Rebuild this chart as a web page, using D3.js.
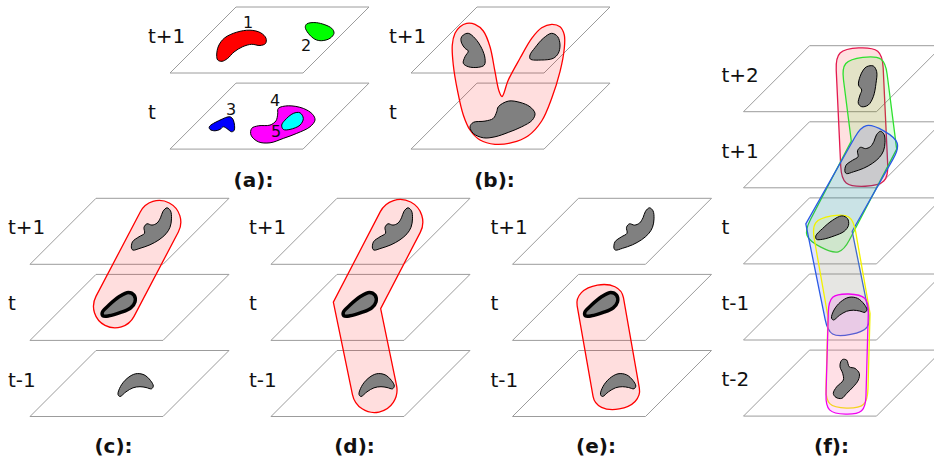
<!DOCTYPE html>
<html>
<head>
<meta charset="utf-8">
<script src="https://cdn.jsdelivr.net/npm/d3@7"></script>
<style>
  html, body { margin: 0; padding: 0; background: #fff; }
  svg { display: block; font-family: "DejaVu Sans", sans-serif; }
</style>
</head>
<body>
<svg id="fig" width="934" height="464"></svg>
<script>
// ---------- data ----------
// time-slice labels, top plane first
const layersTwo   = ["t+1", "t"];
const layersThree = ["t+1", "t", "t-1"];
const layersFive  = ["t+2", "t+1", "t", "t-1", "t-2"];
const captions    = ["(a):", "(b):", "(c):", "(d):", "(e):", "(f):"];

// region outlines, in plane-local offsets [across, depth]
const regionOne   = [[46.7,48],[48.5,39],[54.5,31],[66.7,25.2],[80,23.2],[90.7,25.8],[96,31.3],[95.5,36.5],[90,38.5],[81.7,37.3],[72.7,39.7],[64,45],[57.5,51.5],[52,54.3],[47.7,53]];
const regionTwo   = [[136.7,17],[146.7,15.7],[161.7,21.3],[164,26.3],[160,31.3],[151.7,33.7],[145,32.3],[138.3,26.3],[135.3,20.3]];
const regionThree = [[39.3,43.7],[50,37],[60,33.7],[63.3,37],[64.3,47],[61.7,48.7],[56.7,45.3],[53.3,43.7],[50,46.3],[45,47.7],[40,46.3]];
const regionFour  = [[108.3,25.3],[118.3,22.7],[133.3,25.3],[142.7,31.3],[145,37],[140,43.7],[126.7,50.3],[113.3,55.3],[100,59.7],[88.3,58.7],[81,52],[81.7,45.3],[88.3,42.7],[100,42],[106,37.7],[107.7,31]];
const regionFive  = [[115,37],[123.3,30.3],[130,29.7],[133.3,35.3],[130,42],[120,46.3],[113.3,46.3],[111.7,42]];
const regionIds   = ["1", "2", "3", "4", "5"];

const mergeLeft   = [[52.3,28],[57.3,26.3],[64,31.3],[70.7,41.3],[74,51.3],[73.3,58],[67.3,60.3],[57.3,59.7],[52.3,56.3],[54,49.7],[57.3,44],[54,41.3],[50.7,36.3],[50,31.3]];
const mergeRight  = [[140.7,26.3],[146.7,29.7],[149,38],[147.3,46.3],[142.3,51.3],[130.7,53],[119.3,52],[119,48],[124,40.7],[132.3,31.3]];
const mergeBase   = [[87.3,23.7],[97.3,18],[109,19.3],[119,23.7],[124,30.3],[121.3,37],[110.7,43.7],[97.3,49.3],[84,53.7],[72.3,54.7],[62.3,50.3],[59,43.7],[62.3,39.3],[74,38],[82.3,35.3],[85.7,28.7]];
const mergeHull   = [[55.7,16.3],[49,19.7],[44,26.3],[41.3,38],[42.3,58],[46.7,84.7],[52.3,108],[59,123],[69,133],[84,137.3],[100.7,135.7],[117.3,128.7],[130.7,114],[140.7,91.3],[149,64.7],[153.3,41.3],[153.3,28],[149,19.7],[140.7,17.3],[130.7,20.7],[120.7,31.3],[109,51.3],[97.3,73],[91,89.5],[88,84],[84,64.7],[79,39.7],[72.3,24],[64,17.3]];

const shapeWave     = [[101.5,50],[102.5,43.5],[109,38.5],[114.5,35],[114,29],[117,25.5],[122,26.8],[127,24.8],[130.5,19.5],[133,13],[137,9.5],[140.5,12.5],[141.5,20.5],[140,29],[136,35.5],[129,41.5],[120,46.5],[110,50],[103,51.8]];
const shapeLeaf     = [[72.3,38],[79,30.7],[89,22.4],[98.3,18],[104,20.7],[105,27.4],[100.7,33.4],[90.7,38],[79,41.4],[73,41.4]];
const shapeCrescent = [[88,44],[90.5,36],[97,28],[105.5,23.3],[114,24.3],[120.5,30],[123.3,35.5],[121.5,38.3],[116,37],[110,36.2],[103,37.3],[96,41.3],[90,46]];
const shapeTall     = [[123.2,21],[129.8,20.3],[133.2,26],[132.5,37.6],[129.8,51],[124.8,59.3],[118.2,61],[114.8,57.6],[116.5,49.3],[118.2,44.3],[115,39.3],[116.5,31],[119.8,24.3]];
const shapeTwist    = [[99.2,9.3],[103.2,10],[105.8,16.7],[111.5,18.3],[115.8,23.3],[114.8,30],[109.8,36.7],[103.2,43.3],[98.2,48.3],[92.5,47.3],[89.8,43.3],[93.2,36.7],[99.8,30],[99.2,23.3],[96.5,16.7],[97.2,11.7]];

// tube centre-lines: [plane index, across, depth]
const tubeC   = [[0,129.3,23.7],[1,85,32]];
const tubeD   = [[0,129.3,23.7],[1,86,31],[2,103.5,39.5]];
const tubeE   = [[1,87.8,27.4],[2,103.7,41.8]];
const tubeFRed     = [[0,116.2,23.3],[1,120.7,43.3]];
const tubeFGreen   = [[0,121.8,31.3],[1,130.5,23.3],[2,86.5,31.7]];
const tubeFBlue    = [[1,130.5,26.3],[2,85.5,29.7],[3,103.2,41]];
const tubeFYellow  = [[2,91.5,37.7],[3,105.5,41],[4,103.5,38]];
const tubeFMagenta = [[3,104.8,39],[4,102.5,45]];

// ---------- layout & style ----------
const W = 133, H = 66, SKEW = 66, GAP = 76.1;
const layout = {
  a: { x0: 170,   top: 7,     capX: 253.5, capY: 187 },
  b: { x0: 411,   top: 7,     capX: 494.5, capY: 187 },
  c: { x0: 30,    top: 198.3, capX: 113.5, capY: 453 },
  d: { x0: 271,   top: 198.3, capX: 354.5, capY: 453 },
  e: { x0: 512.5, top: 198.3, capX: 596,   capY: 453 },
  f: { x0: 743.5, top: 45.7,  capX: 831.5, capY: 453 }
};
const regionColor = ["#ff0000", "#00ff00", "#0000ff", "#ff00ff", "#00ffff"];
const regionLabelAt = [[78,21,0],[136,43.5,0],[61,32,1],[105,23,1],[106,53.5,1]];
const tubeStyles = {
  red:     { stroke: "#ff0000", fill: "rgba(255,0,0,0.13)" },
  fRed:    { stroke: "#e3194f", fill: "rgba(255,0,0,0.12)" },
  fGreen:  { stroke: "#2fe02f", fill: "rgba(0,255,0,0.11)" },
  fBlue:   { stroke: "#2a5ae6", fill: "rgba(0,0,255,0.11)" },
  fYellow: { stroke: "#f2f200", fill: "rgba(255,255,0,0.11)" },
  fMag:    { stroke: "#f000f0", fill: "rgba(255,0,255,0.12)" }
};

const svg = d3.select("#fig");

function planeScales(p, i) {
  const top = p.top + i * GAP;
  return {
    x: d3.scaleLinear().domain([0, W + SKEW]).range([p.x0, p.x0 + W + SKEW]),
    y: d3.scaleLinear().domain([0, H]).range([top, top + H])
  };
}

function drawPlanes(g, p, labels) {
  const corners = [[SKEW, 0], [SKEW + W, 0], [W, H], [0, H]];
  labels.forEach((lab, i) => {
    const s = planeScales(p, i);
    g.append("path")
      .attr("d", d3.line().x(d => s.x(d[0])).y(d => s.y(d[1]))(corners) + "Z")
      .attr("fill", "none").attr("stroke", "#9c9c9c").attr("stroke-width", 1);
    g.append("text")
      .attr("x", p.x0 - 22).attr("y", s.y(0) + 36)
      .attr("font-size", 20).attr("fill", "#111")
      .text(lab);
  });
}

function drawBlob(g, p, layer, shape, fill, width) {
  const s = planeScales(p, layer);
  const line = d3.line().x(d => s.x(d[0])).y(d => s.y(d[1]))
    .curve(d3.curveCatmullRomClosed.alpha(0.5));
  g.append("path").attr("d", line(shape))
    .attr("fill", fill).attr("stroke", "#000").attr("stroke-width", width || 1)
    .attr("stroke-linejoin", "round");
}

// rounded tube around a polyline; mitred bends, caps built from cubic curves
function tubePath(pts, r, capLen, k) {
  const n = pts.length, dirs = [];
  for (let i = 0; i < n - 1; i++) {
    const dx = pts[i + 1][0] - pts[i][0], dy = pts[i + 1][1] - pts[i][1], L = Math.hypot(dx, dy);
    dirs.push([dx / L, dy / L]);
  }
  const nor = d => [-d[1], d[0]];
  const offset = sg => pts.map((p, i) => {
    if (i === 0 || i === n - 1) {
      const q = nor(dirs[i === 0 ? 0 : n - 2]);
      return [p[0] + sg * q[0] * r, p[1] + sg * q[1] * r];
    }
    const a = nor(dirs[i - 1]), b = nor(dirs[i]);
    let m = [a[0] + b[0], a[1] + b[1]];
    const ml = Math.hypot(m[0], m[1]);
    m = [m[0] / ml, m[1] / ml];
    const sc = r / (m[0] * a[0] + m[1] * a[1]);
    return [p[0] + sg * m[0] * sc, p[1] + sg * m[1] * sc];
  });
  const Lft = offset(1), Rgt = offset(-1);
  const path = d3.path();
  const cap = (c, d) => {
    const q = nor(d), h = r * capLen;
    const A = [c[0] + q[0] * r, c[1] + q[1] * r];
    const T = [c[0] + d[0] * h, c[1] + d[1] * h];
    const B = [c[0] - q[0] * r, c[1] - q[1] * r];
    path.bezierCurveTo(A[0] + d[0] * h * k, A[1] + d[1] * h * k, T[0] + q[0] * r * k, T[1] + q[1] * r * k, T[0], T[1]);
    path.bezierCurveTo(T[0] - q[0] * r * k, T[1] - q[1] * r * k, B[0] + d[0] * h * k, B[1] + d[1] * h * k, B[0], B[1]);
  };
  path.moveTo(Lft[0][0], Lft[0][1]);
  for (let i = 1; i < n; i++) path.lineTo(Lft[i][0], Lft[i][1]);
  cap(pts[n - 1], dirs[n - 2]);
  for (let i = n - 2; i >= 0; i--) path.lineTo(Rgt[i][0], Rgt[i][1]);
  cap(pts[0], [-dirs[0][0], -dirs[0][1]]);
  path.closePath();
  return path.toString();
}

function drawTube(g, p, tube, r, style, capLen, k) {
  const pts = tube.map(([layer, u, v]) => {
    const s = planeScales(p, layer);
    return [s.x(u), s.y(v)];
  });
  g.append("path").attr("d", tubePath(pts, r, capLen, k))
    .attr("fill", style.fill).attr("stroke", style.stroke).attr("stroke-width", 1.3)
    .attr("stroke-linejoin", "miter");
}

function caption(g, p, text) {
  g.append("text").attr("x", p.capX).attr("y", p.capY)
    .attr("text-anchor", "middle").attr("font-size", 20).attr("font-weight", "bold")
    .attr("fill", "#111").text(text);
}

// (a) labelled regions on two slices
{
  const p = layout.a, g = svg.append("g");
  drawPlanes(g, p, layersTwo);
  const regions = [[0, regionOne], [0, regionTwo], [1, regionThree], [1, regionFour], [1, regionFive]];
  regions.forEach(([layer, shape], i) => drawBlob(g, p, layer, shape, regionColor[i]));
  regionIds.forEach((id, i) => {
    const [u, v, layer] = regionLabelAt[i];
    const s = planeScales(p, layer);
    g.append("text").attr("x", s.x(u)).attr("y", s.y(v))
      .attr("text-anchor", "middle").attr("font-size", 16).attr("fill", "#111").text(id);
  });
  caption(g, p, captions[0]);
}

// (b) one region splitting into two
{
  const p = layout.b, g = svg.append("g");
  drawPlanes(g, p, layersTwo);
  const s = planeScales(p, 0);
  g.append("path")
    .attr("d", d3.line().x(d => s.x(d[0])).y(d => s.y(d[1])).curve(d3.curveCatmullRomClosed.alpha(0.5))(mergeHull))
    .attr("fill", tubeStyles.red.fill).attr("stroke", tubeStyles.red.stroke).attr("stroke-width", 1.3);
  drawBlob(g, p, 0, mergeLeft, "#808080");
  drawBlob(g, p, 0, mergeRight, "#808080");
  drawBlob(g, p, 1, mergeBase, "#808080");
  caption(g, p, captions[1]);
}

// (c), (d), (e) three slices with different links
[["c", tubeC, 21.5, 1, 0.5523], ["d", tubeD, 22.5, 1, 0.5523], ["e", tubeE, 23.5, 0.72, 0.6]].forEach(([key, tube, r, capLen, k], idx) => {
  const p = layout[key], g = svg.append("g");
  drawPlanes(g, p, layersThree);
  drawTube(g, p, tube, r, tubeStyles.red, capLen, k);
  drawBlob(g, p, 0, shapeWave, "#808080");
  drawBlob(g, p, 1, shapeLeaf, "#808080", 3.5);
  drawBlob(g, p, 2, shapeCrescent, "#808080");
  caption(g, p, captions[2 + idx]);
});

// (f) five slices with overlapping links
{
  const p = layout.f, g = svg.append("g");
  drawPlanes(g, p, layersFive);
  drawTube(g, p, tubeFRed, 23.5, tubeStyles.fRed, 0.9, 0.8);
  drawTube(g, p, tubeFGreen, 22, tubeStyles.fGreen, 0.9, 0.8);
  drawTube(g, p, tubeFBlue, 22, tubeStyles.fBlue, 0.9, 0.8);
  drawTube(g, p, tubeFYellow, 21, tubeStyles.fYellow, 0.95, 0.8);
  drawTube(g, p, tubeFMagenta, 20, tubeStyles.fMag, 0.95, 0.8);
  drawBlob(g, p, 0, shapeTall, "#808080");
  drawBlob(g, p, 1, shapeWave, "#808080");
  drawBlob(g, p, 2, shapeLeaf, "#808080");
  drawBlob(g, p, 3, shapeCrescent, "#808080");
  drawBlob(g, p, 4, shapeTwist, "#808080");
  caption(g, p, captions[5]);
}
</script>
</body>
</html>
